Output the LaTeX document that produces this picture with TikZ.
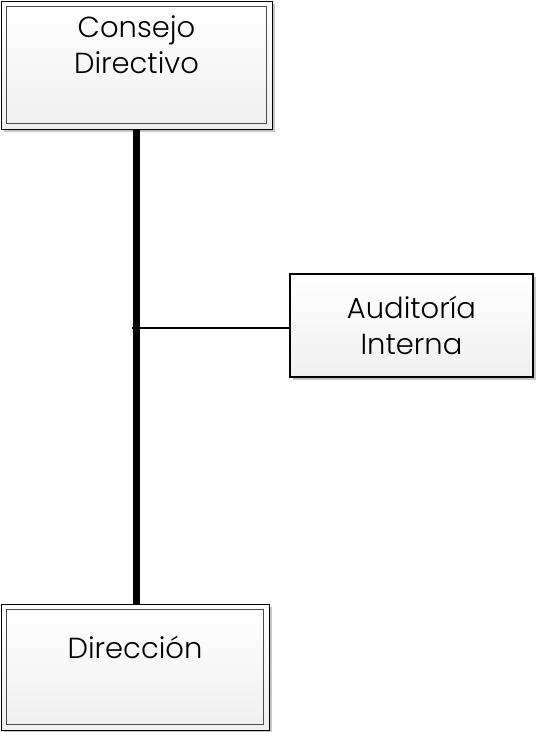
\documentclass[tikz,border=0pt]{standalone}
\usepackage{fontspec}
\setmainfont{Poppins Light}
\usetikzlibrary{shadows}

\tikzset{
    caja/.style={rectangle, draw=black, line width=0.8pt, inner sep=0pt,
        top color=white, bottom color=gray!12,
        drop shadow={shadow xshift=2.5pt, shadow yshift=-3pt, fill=gray!45, opacity=1},
        font=\fontsize{29}{36}\selectfont},
    marco/.style={caja, path picture={
        \draw[gray!60!black, line width=1pt]
            ([shift={(5.5pt,-5.5pt)}]path picture bounding box.north west) rectangle
            ([shift={(-5.5pt,5.5pt)}]path picture bounding box.south east);}},
    linea/.style={line width=#1, black}
}

\begin{document}
\begin{tikzpicture}[x=1pt, y=1pt]
    \useasboundingbox (0,0) rectangle (536,732);
    \node[marco, minimum width=271pt, minimum height=128pt] (consejo) at (136.5,667)
        {\parbox[c][98pt][t]{250pt}{\centering Consejo\\Directivo}};
    \node[caja, line width=2.5pt, minimum width=243pt, minimum height=103pt, align=center] (auditoria) at (411.5,406.5)
        {Auditoría\\Interna};
    \node[marco, minimum width=268pt, minimum height=126pt] (direccion) at (135,65)
        {\parbox[c][62pt][t]{250pt}{\centering Dirección}};
    \coordinate (union) at (132,404);
    \draw[linea=6.5pt] (consejo.south) -- (consejo.south |- direccion.north);
    \draw[linea=2pt] (union) -- (union -| auditoria.west);
\end{tikzpicture}
\end{document}
